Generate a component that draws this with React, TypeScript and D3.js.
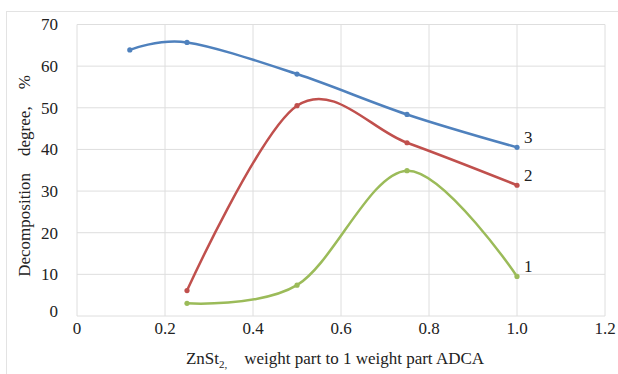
import React from "react";
import * as d3 from "d3";

const xValues3 = [0.12, 0.25, 0.5, 0.75, 1.0];
const series3 = [63.9, 65.7, 58.1, 48.4, 40.5];
const xValues12 = [0.25, 0.5, 0.75, 1.0];
const series2 = [6.1, 50.5, 41.6, 31.4];
const series1 = [3.05, 7.4, 34.9, 9.5];
const xTicks = [0, 0.2, 0.4, 0.6, 0.8, 1.0, 1.2];
const xTickLabels = ["0", "0.2", "0.4", "0.6", "0.8", "1.0", "1.2"];
const yTicks = [0, 10, 20, 30, 40, 50, 60, 70];
const seriesLabels = ["1", "2", "3"];

const W = 618;
const H = 374;
const left = 77;
const right = 605;
const top = 24.5;
const bottom = 316;
const FONT = "'Liberation Serif', 'DejaVu Serif', serif";

export default function App() {
  const x = d3.scaleLinear().domain([0, 1.2]).range([left, right]);
  const y = d3.scaleLinear().domain([0, 70]).range([bottom, top]);
  const line = d3
    .line<[number, number]>()
    .x((d) => x(d[0]))
    .y((d) => y(d[1]))
    .curve(d3.curveCatmullRom.alpha(0));

  const series = [
    { name: seriesLabels[0], color: "#9BBB59", xs: xValues12, ys: series1 },
    { name: seriesLabels[1], color: "#C0504D", xs: xValues12, ys: series2 },
    { name: seriesLabels[2], color: "#4F81BD", xs: xValues3, ys: series3 },
  ];

  return (
    <svg
      width={W}
      height={H}
      style={{ position: "absolute", left: 0, top: 0, background: "#fff" }}
    >
      <rect x={0} y={0} width={W} height={H} fill="#fff" />
      <line x1={6} y1={11.5} x2={W} y2={11.5} stroke="#e3e3e3" strokeWidth={1} />
      <line x1={6.5} y1={11} x2={6.5} y2={H} stroke="#e3e3e3" strokeWidth={1} />
      {yTicks.map((t) => (
        <line
          key={"gy" + t}
          x1={left}
          x2={right}
          y1={y(t)}
          y2={y(t)}
          stroke="#dedede"
          strokeWidth={1}
        />
      ))}
      {xTicks.map((t) => (
        <line
          key={"gx" + t}
          x1={x(t)}
          x2={x(t)}
          y1={top}
          y2={bottom}
          stroke="#dedede"
          strokeWidth={1}
        />
      ))}
      {yTicks.map((t) => (
        <text
          key={"ty" + t}
          x={58}
          y={t === 0 ? y(t) - 5 : y(t)}
          dy="0.35em"
          textAnchor="end"
          fontFamily={FONT}
          fontSize={17}
          fill="#222"
        >
          {t}
        </text>
      ))}
      {xTicks.map((t, i) => (
        <text
          key={"tx" + t}
          x={x(t)}
          y={328}
          dy="0.35em"
          textAnchor="middle"
          fontFamily={FONT}
          fontSize={17}
          fill="#222"
        >
          {xTickLabels[i]}
        </text>
      ))}
      {series.map((s) => {
        const pts: [number, number][] = s.xs.map((v, i) => [v, s.ys[i]]);
        const last = pts[pts.length - 1];
        return (
          <g key={s.name}>
            <path d={line(pts) || ""} fill="none" stroke={s.color} strokeWidth={2.5} />
            {pts.map((p, i) => (
              <circle key={i} cx={x(p[0])} cy={y(p[1])} r={2.6} fill={s.color} />
            ))}
            <text
              x={x(last[0]) + 7}
              y={y(last[1]) - 10}
              dy="0.35em"
              fontFamily={FONT}
              fontSize={17}
              fill="#222"
            >
              {s.name}
            </text>
          </g>
        );
      })}
      <text
        x={335}
        y={358}
        dy="0.35em"
        textAnchor="middle"
        fontFamily={FONT}
        fontSize={17}
        fill="#222"
        style={{ whiteSpace: "pre" }}
      >
        <tspan>ZnSt</tspan>
        <tspan fontSize={11} dy="4">2,</tspan>
        <tspan dy="-4">{"    weight part to 1 weight part ADCA"}</tspan>
      </text>
      <text
        transform={`translate(24, ${176}) rotate(-90)`}
        dy="0.35em"
        textAnchor="middle"
        fontFamily={FONT}
        fontSize={17}
        fill="#222"
        style={{ whiteSpace: "pre" }}
      >
        {"Decomposition    degree,    %"}
      </text>
    </svg>
  );
}
